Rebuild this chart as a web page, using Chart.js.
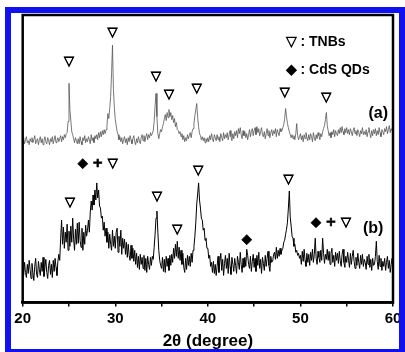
<!DOCTYPE html>
<html>
<head>
<meta charset="utf-8">
<script src="https://cdn.jsdelivr.net/npm/chart.js@4/dist/chart.umd.min.js"></script>
<style>
  html,body{margin:0;padding:0;background:#fff;overflow:hidden;}
  #wrap{position:relative;width:405px;height:352px;}
  #frame{position:absolute;left:5px;top:7px;width:388px;height:336px;border:6px solid #1010f0;pointer-events:none;}
</style>
</head>
<body>
<div id="wrap">
<canvas id="c" width="405" height="352"></canvas>
<div id="frame"></div>
</div>
<script>
// 2θ sampling grid (degrees)
const thetaStart = 20;
const thetaStep = 0.1;

// Pattern (a): TNBs, intensity (a.u.), one row per degree (20.0 ... 59.9), last value 60.0
const patternA = [
  160,164,158,162,165,159,161,157,163,160,
  164,159,162,166,158,161,163,157,162,165,
  159,163,157,161,165,160,158,164,161,157,
  163,160,165,158,162,166,159,161,164,160,
  163,166,160,165,162,167,164,168,169,180,
  218,192,181,170,167,163,159,164,161,158,
  163,158,165,160,157,164,161,166,159,163,
  160,165,162,158,167,161,164,159,166,163,
  167,162,169,164,170,165,171,167,172,168,
  172,176,188,183,193,205,228,256,212,194,
  182,176,170,167,162,165,160,164,158,162,
  165,159,163,157,164,160,166,162,158,163,
  166,160,157,163,159,165,161,158,164,167,
  161,166,160,165,168,162,167,164,169,166,
  168,171,180,196,208,185,168,163,168,172,
  170,175,178,183,187,181,189,184,192,185,
  189,182,186,179,183,175,179,172,171,168,
  170,165,168,162,166,160,164,161,167,163,
  166,169,164,170,173,178,186,192,198,184,
  175,168,166,162,165,161,164,159,163,160,
  164,160,166,162,168,163,160,167,164,161,
  167,162,165,160,168,164,161,169,163,167,
  164,169,162,167,171,165,161,168,163,170,
  166,171,164,173,168,174,167,163,171,166,
  170,164,168,162,167,172,165,170,173,166,
  171,174,167,175,169,173,166,170,174,167,
  165,170,163,168,173,166,171,164,169,172,
  166,171,168,173,165,172,169,166,173,170,
  171,174,177,183,193,185,178,174,170,167,
  164,167,163,166,162,168,178,166,162,165,
  168,162,166,160,167,163,169,164,161,167,
  162,168,165,160,169,164,161,167,163,169,
  166,162,168,165,170,173,176,182,189,176,
  171,166,169,164,170,167,172,165,171,168,
  166,172,168,174,169,175,170,167,173,169,
  174,168,172,167,173,170,166,171,174,168,
  171,166,172,169,165,171,168,174,167,170,
  167,172,165,170,174,168,164,171,166,172,
  168,173,166,171,167,174,169,165,172,170,
  167,173,170,175,168,172,176,169,173,171,
  172
];

// Pattern (b): TNBs + CdS QDs, intensity (a.u.)
const patternB = [
  36,27,40,30,25,38,29,42,33,24,
  39,30,22,36,44,28,25,41,33,27,
  40,31,45,26,35,43,30,24,37,42,
  28,38,25,42,31,44,35,27,41,48,
  42,64,82,58,75,54,70,60,78,52,
  71,56,76,60,84,63,52,73,58,79,
  59,80,62,55,74,52,70,58,77,66,
  72,82,70,90,101,92,107,97,112,102,
  119,104,112,96,94,84,86,72,80,66,
  74,60,70,54,68,58,52,72,56,66,
  54,70,74,50,66,56,72,48,64,54,
  63,48,60,45,58,47,42,57,44,54,
  41,52,38,49,35,46,33,48,38,45,
  34,47,32,44,30,46,38,33,45,37,
  46,43,55,68,84,91,70,52,42,37,
  34,45,31,43,30,46,36,44,32,47,
  37,48,40,54,44,58,46,61,44,55,
  42,52,38,49,35,30,44,33,47,37,
  46,36,49,40,52,56,66,80,98,108,
  119,102,94,84,82,72,74,62,64,54,
  54,44,47,36,40,30,41,29,38,27,
  36,46,30,41,49,32,43,27,39,47,
  34,44,29,49,36,28,45,38,31,44,
  37,29,46,40,33,50,38,30,44,35,
  45,36,53,47,38,34,46,31,41,48,
  35,44,31,47,37,50,34,43,29,45,
  39,32,47,36,44,51,37,31,46,40,
  41,48,50,43,55,44,52,46,54,48,
  52,54,60,62,68,73,80,94,111,85,
  76,66,64,56,58,50,52,47,49,44,
  47,38,51,41,53,42,36,49,40,48,
  37,50,42,53,40,48,64,44,38,51,
  45,40,52,42,64,49,39,48,43,53,
  42,51,38,49,54,40,47,36,50,42,
  49,39,51,42,36,48,53,40,35,46,
  40,50,42,35,49,38,46,52,41,34,
  45,37,49,40,34,47,38,48,36,43,
  40,33,46,38,48,35,43,32,44,37,
  38,46,61,41,33,47,36,44,32,41,
  36,44,32,40,46,34,42,30,38,44,
  36
];

// x-axis tick labels
const tickLabels = ["20","30","40","50","60"];

// Peak markers and labels (2θ, intensity level, text, kind)
const markTheta = [25.0, 29.7, 34.4, 35.8, 38.8, 48.3, 52.8,
                   25.1, 28.1, 34.5, 36.7, 38.95, 44.2, 48.7, 53.3,
                   48.4, 48.4, 58.4, 57.85];
const markLevel = [240, 268, 225, 207, 213, 209, 204,
                   99, 138, 105, 73, 131, 63, 122, 80,
                   259, 231, 188, 74];
const markText  = ["▽","▽","▽","▽","▽","▽","▽",
                   "▽","◆ + ▽","▽","▽","▽","◆","▽","◆ + ▽",
                   "▽ : TNBs","◆ : CdS QDs","(a)","(b)"];
const markKind  = ["m","m","m","m","m","m","m",
                   "m","m","m","m","m","m","m","m",
                   "leg","leg","lab","lab"];

const thetas = patternA.map((_, i) => +(thetaStart + i * thetaStep).toFixed(1));
const toXY = arr => arr.map((v, i) => ({x: thetas[i], y: v}));

const markPlugin = {
  id: 'marks',
  afterDatasetsDraw(chart) {
    const ctx = chart.ctx, xs = chart.scales.x, ys = chart.scales.y;
    ctx.save();
    ctx.fillStyle = '#000';
    ctx.strokeStyle = '#000';
    ctx.textBaseline = 'middle';
    for (let i = 0; i < markText.length; i++) {
      const k = markKind[i];
      const px = xs.getPixelForValue(markTheta[i]), py = ys.getPixelForValue(markLevel[i]);
      if (k === 'm') {
        ctx.font = 'bold 13px "DejaVu Sans"'; ctx.textAlign = 'center';
        ctx.lineWidth = 0.7;
        ctx.fillText(markText[i], px, py);
        ctx.strokeText(markText[i], px, py);
        continue;
      }
      if (k === 'leg') { ctx.font = 'bold 14px "Liberation Sans", Arial'; ctx.textAlign = 'left'; }
      else { ctx.font = 'bold 16px "Liberation Sans", Arial'; ctx.textAlign = 'center'; }
      ctx.fillText(markText[i], px, py);
    }
    const a = chart.chartArea;
    ctx.lineWidth = 2.5;
    ctx.strokeRect(a.left, a.top, a.right - a.left, a.bottom - a.top);
    ctx.restore();
  }
};

new Chart(document.getElementById('c'), {
  type: 'line',
  data: {
    datasets: [
      {label: '(a)', data: toXY(patternA), borderColor: '#555555', borderWidth: 0.8, pointRadius: 0, tension: 0},
      {label: '(b)', data: toXY(patternB), borderColor: '#000000', borderWidth: 1, pointRadius: 0, tension: 0}
    ]
  },
  options: {
    responsive: false,
    animation: false,
    devicePixelRatio: 1,
    layout: {padding: {left: 22.7, right: 12, top: 15, bottom: 0}},
    plugins: {legend: {display: false}, tooltip: {enabled: false}},
    scales: {
      x: {
        type: 'linear', min: 20, max: 60,
        border: {display: true, color: '#000', width: 2.5},
        grid: {display: true, drawOnChartArea: false, drawTicks: true, tickLength: 4, color: '#000', lineWidth: 1.5},
        ticks: {
          stepSize: 5, maxRotation: 0, autoSkip: false, padding: 3, color: '#000',
          font: {family: '"Liberation Sans", Arial', weight: 'bold', size: 15},
          callback: v => tickLabels.includes(String(v)) ? String(v) : ''
        },
        title: {display: true, text: '2θ (degree)', color: '#000', padding: {top: 1, bottom: 0},
          font: {family: '"Liberation Sans", Arial', weight: 'bold', size: 17}}
      },
      y: {display: false, min: 0, max: 286}
    }
  },
  plugins: [markPlugin]
});
</script>
</body>
</html>
